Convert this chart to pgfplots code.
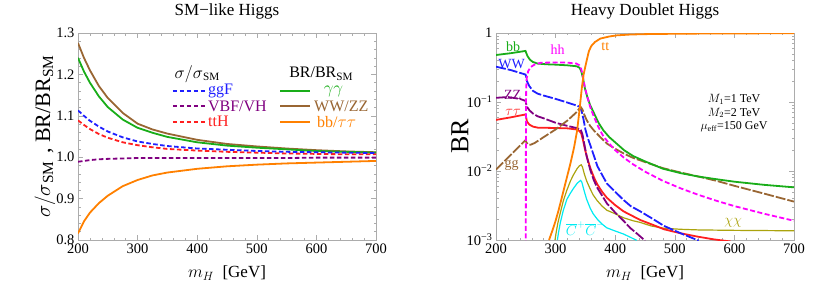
\documentclass[border=0pt]{standalone}
\usepackage{fontspec}
\setmainfont{Liberation Serif}
\usepackage{pgfplots}
\usepackage{pgfplotstable}
\pgfplotsset{compat=1.18}

\definecolor{cgreen}{rgb}{0.1,0.68,0.1}
\definecolor{cbrown}{rgb}{0.6,0.4,0.2}
\definecolor{cblue}{rgb}{0.12,0.12,1}
\definecolor{cred}{rgb}{1,0.12,0.12}
\definecolor{cpurple}{rgb}{0.5,0,0.5}
\definecolor{corange}{rgb}{1,0.5,0}
\definecolor{cmag}{rgb}{1,0,1}
\definecolor{ccyan}{rgb}{0,0.92,0.95}
\definecolor{colive}{rgb}{0.67,0.64,0.05}

\tikzset{sdash/.style={line width=1.8pt, dash pattern=on 4.5pt off 2.5pt}}

\pgfplotstableread{
m    br    gr    bl    rd    pu    or
200  1.276 1.240 1.113 1.089 0.989 0.816
210  1.240 1.207 1.100 1.078 0.991 0.845
220  1.210 1.180 1.088 1.068 0.993 0.866
235  1.172 1.147 1.074 1.056 0.995 0.889
250  1.143 1.121 1.062 1.047 0.996 0.907
275  1.107 1.091 1.048 1.036 0.997 0.930
300  1.081 1.071 1.038 1.029 0.998 0.945
325  1.067 1.059 1.032 1.024 0.998 0.956
350  1.057 1.049 1.027 1.020 0.998 0.963
400  1.042 1.036 1.021 1.016 0.998 0.972
450  1.032 1.028 1.018 1.013 0.998 0.978
500  1.026 1.023 1.015 1.011 0.998 0.982
550  1.021 1.019 1.013 1.009 0.998 0.985
600  1.017 1.015 1.012 1.008 0.999 0.987
650  1.014 1.013 1.011 1.007 0.999 0.989
700  1.012 1.011 1.010 1.007 0.999 0.991
}\smtable

\pgfplotsset{
  mma/.style={
    scale only axis, width=298pt, height=207pt,
    axis line style={gray!65, line width=0.6pt},
    tick style={gray!65, line width=0.5pt},
    tick align=inside, major tick length=5pt, minor tick length=2.5pt,
    xmin=200, xmax=700, xtick={200,300,...,700}, minor x tick num=4,
    ticklabel style={font=\fontsize{14.5}{16}\selectfont},
    /pgf/number format/assume math mode=true,
    xlabel={$m_H$\ \ [GeV]},
    xlabel style={font=\fontsize{17}{19}\selectfont, at={(axis description cs:0.5,-0.16)}, anchor=center},
    title style={font=\fontsize{17}{19}\selectfont, at={(axis description cs:0.5,1.073)}, anchor=center},
    every axis plot/.append style={line width=1.8pt},
  },
}

\begin{document}
\begin{tikzpicture}
\path[use as bounding box] (0,0) rectangle (830pt,293pt);

% ---------------- Left panel ----------------
\begin{axis}[mma, at={(78pt,53pt)}, anchor=south west,
  title={SM−like Higgs},
  ymin=0.8, ymax=1.3, ytick={0.8,0.9,...,1.3}, minor y tick num=4,
  yticklabel style={/pgf/number format/.cd, fixed, fixed zerofill, precision=1},
  ylabel={$\sigma/\sigma$\textsubscript{SM}\,\,,\ BR/BR\textsubscript{SM}},
  ylabel style={font=\fontsize{22}{24}\selectfont, at={(axis description cs:-0.111,0.5)}, anchor=center},
]
\addplot[no marks, cbrown] table[x=m, y=br] {\smtable};
\addplot[no marks, cgreen] table[x=m, y=gr] {\smtable};
\addplot[no marks, corange] table[x=m, y=or] {\smtable};
\addplot[no marks, cpurple, sdash] table[x=m, y=pu] {\smtable};
\addplot[no marks, cred, sdash] table[x=m, y=rd] {\smtable};
\addplot[no marks, cblue, sdash] table[x=m, y=bl] {\smtable};

% legend
\node[font=\fontsize{16}{17}\selectfont, inner sep=1pt] at (axis cs:400,1.201) {$\sigma/\sigma$\textsubscript{SM}};
\node[font=\fontsize{16}{17}\selectfont, inner sep=1pt] at (axis cs:608,1.202) {BR/BR\textsubscript{SM}};
\draw[cblue, sdash] (axis cs:359,1.159) -- (axis cs:413,1.159);
\draw[cpurple, sdash] (axis cs:359,1.123) -- (axis cs:413,1.123);
\draw[cred, sdash] (axis cs:359,1.086) -- (axis cs:413,1.086);
\node[anchor=west, inner sep=0pt, text=cblue, font=\fontsize{16}{17}\selectfont] at (axis cs:418,1.159) {ggF};
\node[anchor=west, inner sep=0pt, text=cpurple, font=\fontsize{16}{17}\selectfont] at (axis cs:418,1.123) {VBF/VH};
\node[anchor=west, inner sep=0pt, text=cred, font=\fontsize{16}{17}\selectfont] at (axis cs:418,1.086) {ttH};
\draw[cgreen, line width=1.8pt] (axis cs:539,1.159) -- (axis cs:589,1.159);
\draw[cbrown, line width=1.8pt] (axis cs:539,1.123) -- (axis cs:589,1.123);
\draw[corange, line width=1.8pt] (axis cs:539,1.086) -- (axis cs:589,1.086);
\node[anchor=west, inner sep=0pt, text=cgreen, font=\fontsize{16}{17}\selectfont] at (axis cs:612,1.159) {$\gamma\gamma$};
\node[anchor=west, inner sep=0pt, text=cbrown, font=\fontsize{16}{17}\selectfont] at (axis cs:596,1.123) {WW/ZZ};
\node[anchor=west, inner sep=0pt, text=corange, font=\fontsize{16}{17}\selectfont] at (axis cs:601,1.086) {bb/$\tau\tau$};
\end{axis}

% ---------------- Right panel ----------------
\begin{axis}[mma, at={(496pt,53pt)}, anchor=south west,
  title={Heavy Doublet Higgs},
  ymode=log, ymin=0.001, ymax=1,
  ytick={0.001,0.01,0.1,1},
  yticklabels={10\textsuperscript{−3},10\textsuperscript{−2},10\textsuperscript{−1},1},
  minor ytick={0.002,0.003,0.004,0.005,0.006,0.007,0.008,0.009,0.02,0.03,0.04,0.05,0.06,0.07,0.08,0.09,0.2,0.3,0.4,0.5,0.6,0.7,0.8,0.9},
  ylabel={BR},
  ylabel style={font=\fontsize{26}{28}\selectfont, at={(axis description cs:-0.121,0.5)}, anchor=center},
]
% chi chi (olive)
\addplot[no marks, colive, line width=1.2pt] coordinates {(299,0.001) (301,0.0013) (304,0.0018) (308,0.0025) (313,0.0037) (319,0.0053) (325,0.0072) (330,0.0088) (336,0.0108) (340,0.0119) (343,0.0123) (345,0.0115) (348,0.0092) (352,0.0072) (358,0.0055) (363,0.0045) (370,0.0037) (378,0.0031) (386,0.0027) (400,0.0024) (414,0.0021) (430,0.0019) (442,0.0018) (460,0.0016) (482,0.00148) (510,0.00143) (540,0.0014) (600,0.00138) (650,0.00137) (700,0.00136)};
% C+C- (cyan)
\addplot[no marks, ccyan, line width=1.2pt] coordinates {(303,0.001) (305,0.0013) (308,0.0018) (313,0.0027) (319,0.0039) (325,0.0048) (330,0.0056) (336,0.0066) (340,0.0071) (342,0.0073) (344,0.0069) (347,0.0055) (352,0.0039) (358,0.0029) (363,0.0024) (370,0.0020) (378,0.0017) (386,0.0015) (400,0.00135) (414,0.00122) (425,0.0011) (436,0.00099)};
% tau tau (red)
\addplot[no marks, cred] coordinates {(200,0.055) (225,0.060) (249.5,0.066) (250.5,0.060) (252,0.052) (256,0.047) (262,0.044) (270,0.0425) (300,0.042) (320,0.0415) (335,0.040) (340,0.038) (343,0.035) (346,0.028) (349,0.021) (353,0.0155) (358,0.0112) (364,0.0082) (370,0.0064) (378,0.0050) (386,0.0041) (400,0.0032) (414,0.0026) (426,0.0023) (442,0.00195) (460,0.0017) (482,0.00143) (510,0.00125) (538,0.00112) (566,0.00102) (594,0.00095)};
% ZZ (purple)
\addplot[no marks, cpurple, dash pattern=on 10pt off 2pt] coordinates {(200,0.115) (220,0.118) (240,0.111) (249.5,0.104) (250.5,0.095) (252,0.085) (256,0.076) (262,0.068) (270,0.062) (280,0.058) (300,0.050) (320,0.045) (335,0.042) (342,0.040) (345,0.034) (348,0.025) (352,0.0165) (358,0.0105) (364,0.0074) (370,0.0057) (378,0.0044) (386,0.0034) (400,0.0025) (414,0.0019) (425,0.0015) (436,0.00125) (450,0.00098)};
% WW (blue)
\addplot[no marks, cblue, dash pattern=on 10pt off 2pt] coordinates {(200,0.325) (225,0.29) (249.5,0.25) (250.5,0.235) (252,0.2) (256,0.17) (262,0.145) (270,0.132) (280,0.124) (300,0.111) (320,0.098) (335,0.089) (341,0.085) (344,0.072) (347,0.055) (350,0.040) (354,0.030) (358,0.024) (362,0.019) (370,0.0118) (378,0.0088) (386,0.0066) (400,0.0050) (414,0.0038) (426,0.0031) (442,0.0026) (460,0.0021) (482,0.0016) (510,0.00125) (540,0.00098)};
% gg (brown)
\addplot[no marks, cbrown, dash pattern=on 10pt off 2pt] coordinates {(200,0.0105) (225,0.0172) (249.5,0.028) (251,0.026) (254,0.0243) (258,0.024) (265,0.0255) (280,0.031) (300,0.040) (320,0.054) (335,0.071) (342,0.085) (345,0.078) (348,0.066) (352,0.055) (358,0.045) (365,0.038) (375,0.031) (386,0.025) (400,0.021) (415,0.0178) (430,0.0155) (450,0.0135) (480,0.0110) (510,0.0095) (540,0.0083) (570,0.0072) (600,0.0061) (650,0.0047) (700,0.0036)};
% bb (green)
\addplot[no marks, cgreen] coordinates {(200,0.48) (225,0.51) (249.5,0.55) (250.5,0.52) (253,0.46) (257,0.41) (262,0.38) (270,0.36) (285,0.352) (300,0.348) (320,0.34) (335,0.33) (340,0.315) (343,0.28) (346,0.22) (349,0.16) (353,0.12) (358,0.09) (364,0.07) (372,0.05) (380,0.039) (390,0.031) (400,0.026) (415,0.020) (430,0.0165) (450,0.0138) (480,0.0108) (510,0.0093) (540,0.0083) (570,0.0076) (600,0.0070) (650,0.0063) (700,0.0058)};
% hh (magenta)
\addplot[no marks, cmag, dash pattern=on 5pt off 2.5pt] coordinates {(250,0.0005) (250.2,0.05) (250.6,0.15) (251.5,0.22) (254,0.28) (258,0.32) (265,0.35) (275,0.37) (300,0.375) (320,0.372) (335,0.36) (340,0.34) (343,0.30) (346,0.23) (349,0.165) (353,0.12) (358,0.085) (364,0.062) (372,0.043) (380,0.032) (390,0.025) (400,0.020) (415,0.0155) (430,0.0125) (450,0.0098) (480,0.0072) (510,0.0056) (540,0.0045) (570,0.0037) (600,0.0031) (650,0.0024) (700,0.0019)};
% tt (orange)
\addplot[no marks, corange] coordinates {(289,0.001) (295,0.0014) (300,0.0019) (305,0.0027) (311,0.0043) (318,0.0075) (325,0.013) (331,0.022) (336,0.038) (340,0.075) (344,0.16) (347,0.25) (350,0.33) (353,0.43) (356,0.55) (360,0.65) (366,0.74) (375,0.83) (390,0.89) (403,0.925) (425,0.95) (450,0.963) (500,0.975) (550,0.982) (600,0.986) (650,0.989) (700,0.991)};

% labels
\node[text=cgreen, font=\fontsize{14}{15}\selectfont] at (axis cs:228.6,0.634) {bb};
\node[text=cblue, font=\fontsize{14}{15}\selectfont] at (axis cs:226,0.35) {WW};
\node[text=cpurple, font=\fontsize{14}{15}\selectfont] at (axis cs:227.8,0.126) {ZZ};
\node[text=cred, font=\fontsize{14}{15}\selectfont] at (axis cs:228.6,0.0716) {$\tau\tau$};
\node[text=cbrown, font=\fontsize{14}{15}\selectfont] at (axis cs:226.4,0.0122) {gg};
\node[text=cmag, font=\fontsize{14}{15}\selectfont] at (axis cs:303.5,0.567) {hh};
\node[text=corange, font=\fontsize{14}{15}\selectfont] at (axis cs:383.5,0.634) {tt};
\node[text=ccyan, font=\fontsize{14}{15}\selectfont, inner sep=0pt] at (axis cs:349.8,0.00145) {$\overline{C}^{+}\overline{C}^{-}$};
\node[text=colive, font=\fontsize{15}{16}\selectfont, inner sep=0pt] at (axis cs:597.8,0.00175) {$\chi\chi$};
\node[font=\fontsize{12}{13.5}\selectfont, align=center] at (axis cs:599.5,0.069) {$M_1$=1 TeV\\$M_2$=2 TeV\\$\mu_{\mathrm{eff}}$=150 GeV};
\end{axis}
\end{tikzpicture}
\end{document}
